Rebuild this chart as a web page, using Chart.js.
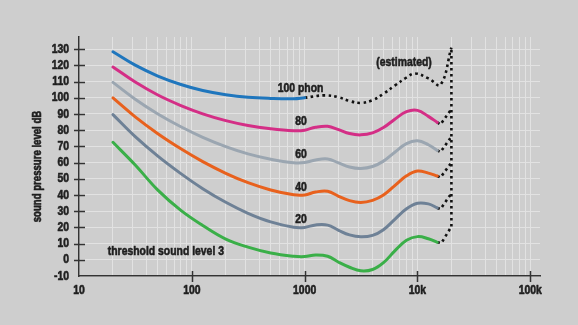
<!DOCTYPE html>
<html>
<head>
<meta charset="utf-8">
<script src="https://cdn.jsdelivr.net/npm/chart.js@4/dist/chart.umd.min.js"></script>
<style>
  html, body { margin: 0; padding: 0; background: #cecece; }
  #wrap { width: 578px; height: 325px; }
</style>
</head>
<body>
<div id="wrap"><canvas id="c" width="578" height="325"></canvas></div>
<script>
// Equal-loudness contours: sound pressure level (dB) against frequency (Hz)
const freqs = [20, 31.5, 50, 80, 125, 200, 315, 500, 800, 1000, 1250, 1600, 2000, 2500, 3150, 4000, 5000, 6300, 8000, 10000, 12500, 15000];

const phon100 = [128.4, 120.1, 113.4, 108.2, 104.5, 101.9, 100.3, 99.6, 99.4, 100.0];
const phon80 = [119.0, 109.7, 101.7, 95.2, 90.1, 85.9, 82.9, 80.9, 79.7, 80.0, 81.8, 82.4, 80.3, 77.9, 77.1, 78.3, 81.6, 86.8, 91.4, 92.2, 88.5, 84.8];
const phon60 = [109.5, 99.1, 90.0, 82.1, 75.6, 69.9, 65.4, 62.1, 59.9, 60.0, 61.6, 62.2, 59.8, 57.3, 56.4, 57.6, 60.9, 66.4, 71.7, 73.4, 71.0, 67.5];
const phon40 = [99.9, 88.2, 77.8, 68.5, 60.6, 53.4, 47.6, 43.1, 40.1, 40.0, 41.8, 42.3, 39.2, 36.5, 35.4, 36.7, 40.0, 45.8, 51.8, 54.8, 53.5, 51.7];
const phon20 = [89.6, 76.0, 64.0, 53.2, 43.9, 35.5, 28.7, 23.4, 20.1, 20.0, 21.5, 21.4, 18.2, 15.4, 14.2, 15.1, 18.6, 25.0, 31.5, 34.9, 34.5, 32.0];
const threshold = [72.5, 58.5, 43.0, 30.5, 21.2, 12.8, 7.8, 4.2, 2.2, 2.0, 3.0, 2.2, -1.5, -4.6, -6.8, -6.0, -1.8, 5.5, 12.0, 14.3, 13.0, 10.8];

// Estimated (dotted) continuation of the 100 phon contour
const estFreqs = [1000, 1500, 2000, 2500, 3150, 4000, 5000, 6300, 8000, 9500, 12500, 16000, 20000];
const phon100Est = [100.0, 101.5, 100.3, 98.0, 96.8, 98.5, 102.5, 107.5, 112.5, 115.0, 112.0, 108.0, 131.0];

// Estimated tails of the lower contours up to the 20 kHz limit
const tailFreqs = [15000, 16000, 20000];
const tail80 = [84.8, 83.5, 93.0];
const tail60 = [67.5, 66.5, 76.0];
const tail40 = [51.7, 50.8, 60.0];
const tail20 = [32.0, 31.3, 41.0];
const thresholdTailFreqs = [15000, 16300, 20000];
const thresholdTail = [10.8, 10.3, 20.5];
const limitFreqs = [20000, 20000];
const limitLevels = [20.5, 131.0];

const xTickValues = [10, 100, 1000, 10000, 100000];
const xTickLabels = ['10', '100', '1000', '10k', '100k'];
const yTickValues = [-10, 0, 10, 20, 30, 40, 50, 60, 70, 80, 90, 100, 110, 120, 130];

const yTitle = 'sound pressure level dB';
const curveNames = ['100 phon', '80', '60', '40', '20', '(estimated)', 'threshold sound level 3'];

const FONT = "'Liberation Sans', Arial, sans-serif";
const INK = '#1e1e1e';
const NARROW = 0.8;   // horizontal squeeze for a narrow bold face

function pts(xs, ys) { return ys.map((y, i) => ({ x: xs[i], y })); }

function solid(label, xs, ys, color) {
  return {
    label, data: pts(xs, ys), borderColor: color, borderWidth: 3,
    pointRadius: 0, fill: false, tension: 0.4,
    borderCapStyle: 'round', borderJoinStyle: 'round'
  };
}
function dotted(label, xs, ys, smooth) {
  const ds = {
    label, data: pts(xs, ys), borderColor: '#111', borderWidth: 2.6,
    borderDash: [2.6, 3.4], pointRadius: 0, fill: false, tension: 0
  };
  if (smooth) ds.tension = 0.4;
  return ds;
}

// Heavy, narrow lettering: squeezed bold face with a thin outline
function narrowText(ctx, text, px, py, align, size, vertical) {
  ctx.save();
  ctx.translate(px, py);
  if (vertical) ctx.rotate(-Math.PI / 2);
  ctx.scale(NARROW, 1);
  ctx.font = 'bold ' + size + 'px ' + FONT;
  ctx.fillStyle = INK;
  ctx.strokeStyle = INK;
  ctx.lineWidth = 0.6;
  ctx.lineJoin = 'round';
  ctx.textAlign = align;
  ctx.textBaseline = 'middle';
  ctx.strokeText(text, 0, 0);
  ctx.fillText(text, 0, 0);
  ctx.restore();
}

// Axis decorations: crossing tick marks, tick labels and the axis title
const axisDecor = {
  id: 'axisDecor',
  afterDraw(chart) {
    const { ctx, scales: { x, y } } = chart;
    ctx.save();
    ctx.strokeStyle = '#333';
    ctx.lineWidth = 1.5;
    ctx.beginPath();
    yTickValues.forEach(v => {
      if (v === y.min) return;
      const py = Math.round(y.getPixelForValue(v)) + 0.5;
      ctx.moveTo(x.left - 5, py); ctx.lineTo(x.left + 6, py);
    });
    xTickValues.forEach(v => {
      if (v === x.min) return;
      const px = Math.round(x.getPixelForValue(v)) + 0.5;
      ctx.moveTo(px, y.bottom - 5); ctx.lineTo(px, y.bottom + 6);
    });
    ctx.stroke();
    ctx.restore();

    yTickValues.forEach(v => {
      narrowText(ctx, String(v), x.left - 10, y.getPixelForValue(v), 'right', 13);
    });
    xTickValues.forEach((v, i) => {
      narrowText(ctx, xTickLabels[i], x.getPixelForValue(v), y.bottom + 14, 'center', 13);
    });
    narrowText(ctx, yTitle, 38, (y.top + y.bottom) / 2 + 10, 'center', 12, true);
  }
};

// Contour names written next to the curves
const curveLabels = {
  id: 'curveLabels',
  afterDatasetsDraw(chart) {
    const { ctx, scales: { x, y } } = chart;
    const spots = [
      { f: 920, db: 105.6, align: 'center' },
      { f: 930, db: 85.3, align: 'center' },
      { f: 930, db: 65.2, align: 'center' },
      { f: 930, db: 44.9, align: 'center' },
      { f: 930, db: 24.7, align: 'center' },
      { f: 7600, db: 122.0, align: 'center' },
      { f: 18, db: 4.9, align: 'left' }
    ];
    curveNames.forEach((t, i) => {
      const s = spots[i];
      narrowText(ctx, t, x.getPixelForValue(s.f), y.getPixelForValue(s.db), s.align, 13);
    });
  }
};

new Chart(document.getElementById('c'), {
  type: 'line',
  data: {
    datasets: [
      solid('100 phon', freqs.slice(0, phon100.length), phon100, '#1f76bd'),
      solid('80 phon', freqs, phon80, '#d42e86'),
      solid('60 phon', freqs, phon60, '#9ba6b1'),
      solid('40 phon', freqs, phon40, '#e8611d'),
      solid('20 phon', freqs, phon20, '#6e8196'),
      solid('threshold', freqs, threshold, '#3aaf48'),
      dotted('100 phon (estimated)', estFreqs, phon100Est, true),
      dotted('80 tail', tailFreqs, tail80),
      dotted('60 tail', tailFreqs, tail60),
      dotted('40 tail', tailFreqs, tail40),
      dotted('20 tail', tailFreqs, tail20),
      dotted('threshold tail', thresholdTailFreqs, thresholdTail),
      dotted('20 kHz limit', limitFreqs, limitLevels)
    ]
  },
  options: {
    responsive: false,
    devicePixelRatio: 1,
    animation: false,
    events: [],
    layout: { padding: { top: 37, right: 38, left: 0, bottom: 0 } },
    plugins: { legend: { display: false }, tooltip: { enabled: false } },
    scales: {
      x: {
        type: 'logarithmic',
        min: 10,
        max: 122000,
        afterBuildTicks(scale) {
          const ticks = [];
          xTickValues.forEach(d => {
            for (let m = 1; m <= 9; m++) {
              const v = d * m;
              if (v <= scale.max) ticks.push({ value: v });
            }
          });
          scale.ticks = ticks;
        },
        afterFit(scale) { scale.height = 49; },
        grid: { color: '#e2e2e2', lineWidth: 1, drawTicks: false },
        border: { display: true, color: '#333', width: 1.5 },
        ticks: { display: false, autoSkip: false }
      },
      y: {
        type: 'linear',
        min: -10,
        max: 137.5,
        afterBuildTicks(scale) { scale.ticks = yTickValues.map(v => ({ value: v })); },
        afterFit(scale) { scale.width = 79; },
        grid: { color: '#e2e2e2', lineWidth: 1, drawTicks: false },
        border: { display: true, color: '#333', width: 1.5 },
        ticks: { display: false, autoSkip: false }
      }
    }
  },
  plugins: [axisDecor, curveLabels]
});
</script>
</body>
</html>
